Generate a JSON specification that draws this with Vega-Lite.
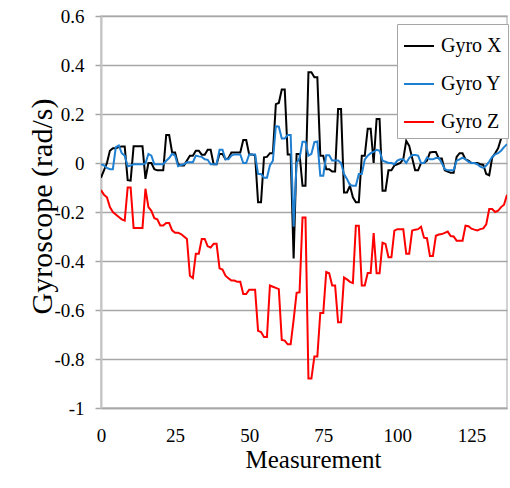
{
  "$schema": "https://vega.github.io/schema/vega-lite/v6.json",
  "width": 406,
  "height": 392,
  "autosize": {"type": "none"},
  "padding": {"left": 101, "top": 16, "right": 3, "bottom": 80},
  "background": "white",
  "config": {
    "font": "Liberation Serif",
    "view": {"stroke": "#c4c4c4", "strokeWidth": 1.5}
  },
  "data": {
    "values": [
      {"m":0,"Gyro X":-0.06,"Gyro Y":-0.005,"Gyro Z":-0.11},
      {"m":1,"Gyro X":-0.03,"Gyro Y":-0.01,"Gyro Z":-0.13},
      {"m":2,"Gyro X":0.0,"Gyro Y":-0.02,"Gyro Z":-0.14},
      {"m":3,"Gyro X":0.05,"Gyro Y":-0.025,"Gyro Z":-0.18},
      {"m":4,"Gyro X":0.06,"Gyro Y":-0.025,"Gyro Z":-0.2},
      {"m":5,"Gyro X":0.06,"Gyro Y":0.065,"Gyro Z":-0.21},
      {"m":6,"Gyro X":0.065,"Gyro Y":0.072,"Gyro Z":-0.22},
      {"m":7,"Gyro X":0.067,"Gyro Y":0.04,"Gyro Z":-0.23},
      {"m":8,"Gyro X":0.067,"Gyro Y":0.03,"Gyro Z":-0.235},
      {"m":9,"Gyro X":-0.07,"Gyro Y":-0.013,"Gyro Z":-0.1},
      {"m":10,"Gyro X":-0.072,"Gyro Y":-0.01,"Gyro Z":-0.1},
      {"m":11,"Gyro X":0.068,"Gyro Y":-0.005,"Gyro Z":-0.265},
      {"m":12,"Gyro X":0.068,"Gyro Y":-0.005,"Gyro Z":-0.265},
      {"m":13,"Gyro X":0.068,"Gyro Y":-0.005,"Gyro Z":-0.265},
      {"m":14,"Gyro X":0.068,"Gyro Y":-0.005,"Gyro Z":-0.265},
      {"m":15,"Gyro X":-0.065,"Gyro Y":-0.002,"Gyro Z":-0.105},
      {"m":16,"Gyro X":0.0,"Gyro Y":0.037,"Gyro Z":-0.18},
      {"m":17,"Gyro X":0.0,"Gyro Y":0.03,"Gyro Z":-0.195},
      {"m":18,"Gyro X":-0.025,"Gyro Y":-0.005,"Gyro Z":-0.225},
      {"m":19,"Gyro X":-0.03,"Gyro Y":-0.005,"Gyro Z":-0.23},
      {"m":20,"Gyro X":-0.03,"Gyro Y":-0.005,"Gyro Z":-0.255},
      {"m":21,"Gyro X":-0.03,"Gyro Y":-0.005,"Gyro Z":-0.255},
      {"m":22,"Gyro X":0.114,"Gyro Y":0.009,"Gyro Z":-0.245},
      {"m":23,"Gyro X":0.114,"Gyro Y":0.02,"Gyro Z":-0.245},
      {"m":24,"Gyro X":0.043,"Gyro Y":0.037,"Gyro Z":-0.275},
      {"m":25,"Gyro X":0.043,"Gyro Y":0.03,"Gyro Z":-0.285},
      {"m":26,"Gyro X":-0.005,"Gyro Y":-0.013,"Gyro Z":-0.285},
      {"m":27,"Gyro X":-0.01,"Gyro Y":-0.008,"Gyro Z":-0.29},
      {"m":28,"Gyro X":-0.01,"Gyro Y":-0.005,"Gyro Z":-0.3},
      {"m":29,"Gyro X":0.01,"Gyro Y":0.003,"Gyro Z":-0.31},
      {"m":30,"Gyro X":0.03,"Gyro Y":0.003,"Gyro Z":-0.46},
      {"m":31,"Gyro X":0.03,"Gyro Y":0.003,"Gyro Z":-0.47},
      {"m":32,"Gyro X":0.05,"Gyro Y":0.03,"Gyro Z":-0.37},
      {"m":33,"Gyro X":0.05,"Gyro Y":0.027,"Gyro Z":-0.37},
      {"m":34,"Gyro X":0.034,"Gyro Y":0.025,"Gyro Z":-0.31},
      {"m":35,"Gyro X":0.034,"Gyro Y":0.015,"Gyro Z":-0.31},
      {"m":36,"Gyro X":0.054,"Gyro Y":0.013,"Gyro Z":-0.34},
      {"m":37,"Gyro X":0.054,"Gyro Y":-0.005,"Gyro Z":-0.345},
      {"m":38,"Gyro X":-0.005,"Gyro Y":-0.005,"Gyro Z":-0.33},
      {"m":39,"Gyro X":-0.005,"Gyro Y":-0.005,"Gyro Z":-0.33},
      {"m":40,"Gyro X":0.037,"Gyro Y":0.054,"Gyro Z":-0.43},
      {"m":41,"Gyro X":0.037,"Gyro Y":0.054,"Gyro Z":-0.435},
      {"m":42,"Gyro X":0.015,"Gyro Y":0.015,"Gyro Z":-0.46},
      {"m":43,"Gyro X":0.02,"Gyro Y":0.015,"Gyro Z":-0.47},
      {"m":44,"Gyro X":0.043,"Gyro Y":0.03,"Gyro Z":-0.48},
      {"m":45,"Gyro X":0.043,"Gyro Y":0.035,"Gyro Z":-0.48},
      {"m":46,"Gyro X":0.043,"Gyro Y":0.035,"Gyro Z":-0.485},
      {"m":47,"Gyro X":0.043,"Gyro Y":0.035,"Gyro Z":-0.485},
      {"m":48,"Gyro X":0.094,"Gyro Y":0.0,"Gyro Z":-0.535},
      {"m":49,"Gyro X":0.094,"Gyro Y":0.0,"Gyro Z":-0.535},
      {"m":50,"Gyro X":0.035,"Gyro Y":0.035,"Gyro Z":-0.517},
      {"m":51,"Gyro X":0.035,"Gyro Y":0.035,"Gyro Z":-0.517},
      {"m":52,"Gyro X":0.03,"Gyro Y":0.035,"Gyro Z":-0.517},
      {"m":53,"Gyro X":-0.16,"Gyro Y":-0.045,"Gyro Z":-0.685},
      {"m":54,"Gyro X":-0.16,"Gyro Y":-0.045,"Gyro Z":-0.69},
      {"m":55,"Gyro X":0.023,"Gyro Y":-0.06,"Gyro Z":-0.71},
      {"m":56,"Gyro X":0.025,"Gyro Y":-0.06,"Gyro Z":-0.71},
      {"m":57,"Gyro X":0.04,"Gyro Y":-0.01,"Gyro Z":-0.5},
      {"m":58,"Gyro X":0.04,"Gyro Y":0.009,"Gyro Z":-0.505},
      {"m":59,"Gyro X":0.24,"Gyro Y":0.15,"Gyro Z":-0.51},
      {"m":60,"Gyro X":0.245,"Gyro Y":0.148,"Gyro Z":-0.515},
      {"m":61,"Gyro X":0.3,"Gyro Y":0.1,"Gyro Z":-0.722},
      {"m":62,"Gyro X":0.3,"Gyro Y":0.1,"Gyro Z":-0.725},
      {"m":63,"Gyro X":0.035,"Gyro Y":0.114,"Gyro Z":-0.74},
      {"m":64,"Gyro X":0.035,"Gyro Y":0.114,"Gyro Z":-0.74},
      {"m":65,"Gyro X":-0.39,"Gyro Y":-0.26,"Gyro Z":-0.64},
      {"m":66,"Gyro X":0.037,"Gyro Y":0.0,"Gyro Z":-0.53},
      {"m":67,"Gyro X":0.037,"Gyro Y":0.02,"Gyro Z":-0.528},
      {"m":68,"Gyro X":-0.093,"Gyro Y":0.087,"Gyro Z":-0.222},
      {"m":69,"Gyro X":-0.093,"Gyro Y":0.087,"Gyro Z":-0.222},
      {"m":70,"Gyro X":0.37,"Gyro Y":0.03,"Gyro Z":-0.88},
      {"m":71,"Gyro X":0.37,"Gyro Y":0.037,"Gyro Z":-0.88},
      {"m":72,"Gyro X":0.35,"Gyro Y":0.085,"Gyro Z":-0.79},
      {"m":73,"Gyro X":0.35,"Gyro Y":0.088,"Gyro Z":-0.79},
      {"m":74,"Gyro X":0.03,"Gyro Y":-0.052,"Gyro Z":-0.612},
      {"m":75,"Gyro X":0.03,"Gyro Y":-0.052,"Gyro Z":-0.612},
      {"m":76,"Gyro X":-0.025,"Gyro Y":0.032,"Gyro Z":-0.445},
      {"m":77,"Gyro X":-0.025,"Gyro Y":0.032,"Gyro Z":-0.45},
      {"m":78,"Gyro X":-0.035,"Gyro Y":0.01,"Gyro Z":-0.5},
      {"m":79,"Gyro X":-0.035,"Gyro Y":0.01,"Gyro Z":-0.5},
      {"m":80,"Gyro X":0.22,"Gyro Y":0.01,"Gyro Z":-0.65},
      {"m":81,"Gyro X":0.22,"Gyro Y":0.0,"Gyro Z":-0.65},
      {"m":82,"Gyro X":-0.12,"Gyro Y":-0.045,"Gyro Z":-0.467},
      {"m":83,"Gyro X":-0.12,"Gyro Y":-0.065,"Gyro Z":-0.475},
      {"m":84,"Gyro X":-0.093,"Gyro Y":-0.09,"Gyro Z":-0.485},
      {"m":85,"Gyro X":-0.14,"Gyro Y":-0.093,"Gyro Z":-0.49},
      {"m":86,"Gyro X":-0.16,"Gyro Y":-0.093,"Gyro Z":-0.256},
      {"m":87,"Gyro X":-0.16,"Gyro Y":-0.045,"Gyro Z":-0.256},
      {"m":88,"Gyro X":0.03,"Gyro Y":-0.045,"Gyro Z":-0.5},
      {"m":89,"Gyro X":0.03,"Gyro Y":0.014,"Gyro Z":-0.5},
      {"m":90,"Gyro X":0.14,"Gyro Y":0.03,"Gyro Z":-0.449},
      {"m":91,"Gyro X":0.14,"Gyro Y":0.04,"Gyro Z":-0.449},
      {"m":92,"Gyro X":0.0,"Gyro Y":0.045,"Gyro Z":-0.286},
      {"m":93,"Gyro X":0.18,"Gyro Y":0.054,"Gyro Z":-0.45},
      {"m":94,"Gyro X":0.18,"Gyro Y":0.05,"Gyro Z":-0.45},
      {"m":95,"Gyro X":-0.113,"Gyro Y":0.01,"Gyro Z":-0.325},
      {"m":96,"Gyro X":-0.113,"Gyro Y":0.005,"Gyro Z":-0.33},
      {"m":97,"Gyro X":-0.03,"Gyro Y":0.0,"Gyro Z":-0.385},
      {"m":98,"Gyro X":-0.03,"Gyro Y":0.0,"Gyro Z":-0.385},
      {"m":99,"Gyro X":-0.01,"Gyro Y":-0.005,"Gyro Z":-0.276},
      {"m":100,"Gyro X":-0.005,"Gyro Y":0.01,"Gyro Z":-0.27},
      {"m":101,"Gyro X":0.0,"Gyro Y":0.015,"Gyro Z":-0.27},
      {"m":102,"Gyro X":0.016,"Gyro Y":0.015,"Gyro Z":-0.27},
      {"m":103,"Gyro X":0.09,"Gyro Y":0.0,"Gyro Z":-0.37},
      {"m":104,"Gyro X":0.07,"Gyro Y":0.02,"Gyro Z":-0.37},
      {"m":105,"Gyro X":0.02,"Gyro Y":0.033,"Gyro Z":-0.276},
      {"m":106,"Gyro X":-0.03,"Gyro Y":0.033,"Gyro Z":-0.272},
      {"m":107,"Gyro X":-0.03,"Gyro Y":0.03,"Gyro Z":-0.27},
      {"m":108,"Gyro X":0.0,"Gyro Y":0.0,"Gyro Z":-0.26},
      {"m":109,"Gyro X":0.0,"Gyro Y":0.0,"Gyro Z":-0.305},
      {"m":110,"Gyro X":0.01,"Gyro Y":0.022,"Gyro Z":-0.307},
      {"m":111,"Gyro X":0.043,"Gyro Y":0.015,"Gyro Z":-0.38},
      {"m":112,"Gyro X":0.045,"Gyro Y":0.015,"Gyro Z":-0.38},
      {"m":113,"Gyro X":0.045,"Gyro Y":0.02,"Gyro Z":-0.297},
      {"m":114,"Gyro X":0.018,"Gyro Y":0.02,"Gyro Z":-0.292},
      {"m":115,"Gyro X":0.018,"Gyro Y":0.0,"Gyro Z":-0.29},
      {"m":116,"Gyro X":-0.03,"Gyro Y":-0.025,"Gyro Z":-0.285},
      {"m":117,"Gyro X":-0.035,"Gyro Y":-0.03,"Gyro Z":-0.28},
      {"m":118,"Gyro X":-0.04,"Gyro Y":-0.03,"Gyro Z":-0.298},
      {"m":119,"Gyro X":-0.04,"Gyro Y":-0.03,"Gyro Z":-0.3},
      {"m":120,"Gyro X":0.025,"Gyro Y":0.01,"Gyro Z":-0.317},
      {"m":121,"Gyro X":0.04,"Gyro Y":0.015,"Gyro Z":-0.317},
      {"m":122,"Gyro X":0.04,"Gyro Y":0.022,"Gyro Z":-0.317},
      {"m":123,"Gyro X":0.015,"Gyro Y":0.015,"Gyro Z":-0.256},
      {"m":124,"Gyro X":0.01,"Gyro Y":0.005,"Gyro Z":-0.258},
      {"m":125,"Gyro X":0.0,"Gyro Y":0.0,"Gyro Z":-0.268},
      {"m":126,"Gyro X":0.0,"Gyro Y":0.0,"Gyro Z":-0.272},
      {"m":127,"Gyro X":0.0,"Gyro Y":-0.005,"Gyro Z":-0.275},
      {"m":128,"Gyro X":-0.005,"Gyro Y":-0.015,"Gyro Z":-0.27},
      {"m":129,"Gyro X":-0.008,"Gyro Y":-0.02,"Gyro Z":-0.267},
      {"m":130,"Gyro X":-0.045,"Gyro Y":-0.01,"Gyro Z":-0.25},
      {"m":131,"Gyro X":-0.05,"Gyro Y":0.006,"Gyro Z":-0.188},
      {"m":132,"Gyro X":0.022,"Gyro Y":0.025,"Gyro Z":-0.188},
      {"m":133,"Gyro X":0.04,"Gyro Y":0.035,"Gyro Z":-0.2},
      {"m":134,"Gyro X":0.06,"Gyro Y":0.04,"Gyro Z":-0.195},
      {"m":135,"Gyro X":0.1,"Gyro Y":0.05,"Gyro Z":-0.18},
      {"m":136,"Gyro X":0.18,"Gyro Y":0.065,"Gyro Z":-0.17},
      {"m":137,"Gyro X":0.2,"Gyro Y":0.077,"Gyro Z":-0.13}
    ]
  },
  "transform": [
    {"fold": ["Gyro X", "Gyro Y", "Gyro Z"], "as": ["series", "value"]}
  ],
  "mark": {"type": "line", "strokeWidth": 2, "clip": true},
  "encoding": {
    "x": {
      "field": "m",
      "type": "quantitative",
      "scale": {"domain": [0, 137], "nice": false, "zero": false},
      "axis": {
        "title": "Measurement",
        "values": [0, 25, 50, 75, 100, 125],
        "grid": false,
        "ticks": false,
        "domain": true,
        "domainColor": "#a6a6a6",
        "domainWidth": 1.5,
        "labelFont": "Liberation Serif",
        "labelFontSize": 19,
        "labelColor": "#000000",
        "labelBaseline": "alphabetic",
        "labelPadding": 33,
        "labelFlush": false,
        "titleFont": "Liberation Serif",
        "titleFontSize": 25,
        "titleFontWeight": "normal",
        "titleColor": "#000000",
        "titleBaseline": "alphabetic",
        "titleX": 212,
        "titleY": 59
      }
    },
    "y": {
      "field": "value",
      "type": "quantitative",
      "scale": {"domain": [-1, 0.6], "nice": false, "zero": false},
      "axis": {
        "title": "Gyroscope  (rad/s)",
        "values": [-1, -0.8, -0.6, -0.4, -0.2, 0, 0.2, 0.4, 0.6],
        "labelExpr": "toString(datum.value)",
        "grid": true,
        "gridColor": "#a6a6a6",
        "gridWidth": 1.5,
        "domain": true,
        "domainColor": "#c4c4c4",
        "domainWidth": 2,
        "ticks": true,
        "tickSize": 6,
        "tickColor": "#a6a6a6",
        "tickWidth": 1.5,
        "labelFont": "Liberation Serif",
        "labelFontSize": 19,
        "labelColor": "#000000",
        "labelPadding": 11,
        "labelFlush": false,
        "titleFont": "Liberation Serif",
        "titleFontSize": 30,
        "titleFontWeight": "normal",
        "titleColor": "#000000",
        "titleAngle": -90,
        "titleBaseline": "alphabetic",
        "titleAlign": "center",
        "titleX": -50,
        "titleY": 190
      }
    },
    "color": {
      "field": "series",
      "type": "nominal",
      "scale": {
        "domain": ["Gyro X", "Gyro Y", "Gyro Z"],
        "range": ["#000000", "#1f7fd1", "#ff0000"]
      },
      "legend": {
        "title": null,
        "orient": "none",
        "legendX": 296,
        "legendY": 8,
        "symbolType": "stroke",
        "symbolSize": 900,
        "symbolStrokeWidth": 2,
        "rowPadding": 12,
        "labelOffset": 6,
        "labelFont": "Liberation Serif",
        "labelFontSize": 20,
        "labelColor": "#000000",
        "padding": 6,
        "fillColor": "#ffffff",
        "strokeColor": "#a6a6a6"
      }
    }
  }
}
